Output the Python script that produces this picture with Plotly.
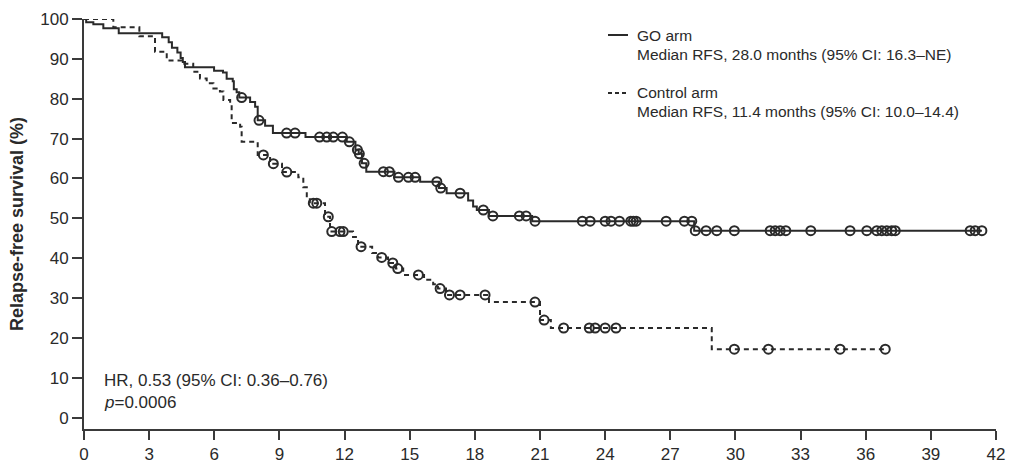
import numpy as np
import plotly.graph_objects as go

# ---- data (months, % relapse-free) ----
go_time = [0, 0.1, 0.43, 0.89, 1.6, 3.6, 3.9, 4.05, 4.3, 4.45, 4.55, 4.65, 5.99, 6.4, 6.57,
           6.85, 6.9, 7.03, 7.15, 7.65, 7.88, 8.0, 8.34, 8.7, 10.2, 12.1, 12.5, 12.65, 12.8,
           13.0, 14.3, 15.48, 16.35, 16.7, 17.69, 17.92, 18.09, 18.65, 20.64, 28.1, 41.35]
go_surv = [100, 99.2, 98.7, 97.7, 96.4, 95.4, 94.2, 92.8, 91.6, 90.2, 89.2, 87.9, 87.0, 86.6, 85.0,
           84.4, 82.4, 81.6, 80.3, 79.2, 78.0, 74.6, 73.2, 71.4, 70.4, 69.2, 67.2, 66.2, 63.8,
           61.7, 60.3, 59.2, 57.6, 56.3, 54.5, 53.0, 52.1, 50.6, 49.3, 46.9, 46.9]
go_censor = [7.26, 8.06, 9.33, 9.72, 10.85, 11.18, 11.48, 11.9, 12.22, 12.59, 12.68, 12.9,
             13.79, 14.06, 14.48, 14.94, 15.25, 16.25, 16.43, 17.32, 18.39, 18.83, 20.05, 20.36,
             20.77, 22.95, 23.31, 24.0, 24.27, 24.66, 25.18, 25.3, 25.43, 26.81, 27.65, 27.99,
             28.15, 28.65, 29.14, 29.95, 31.6, 31.83, 32.06, 32.32, 33.47, 35.28, 36.05, 36.51,
             36.74, 36.97, 37.2, 37.36, 40.81, 41.04, 41.35]

ctl_time = [0, 1.35, 2.55, 3.27, 3.81, 4.5, 5.03, 5.34, 5.65, 5.96, 6.26, 6.42, 6.73, 6.8, 7.19,
            7.26, 8.0, 8.57, 9.12, 9.87, 10.1, 10.26, 10.4, 11.1, 11.33, 12.39, 12.62, 13.27,
            13.54, 14.0, 14.37, 14.7, 15.66, 16.08, 16.3, 16.67, 18.65, 21.0, 21.5, 28.91, 36.9]
ctl_surv = [100, 97.9, 95.7, 91.8, 89.6, 88.8, 86.8, 85.1, 83.9, 82.6, 81.8, 79.7, 78.9, 73.9, 73.0,
            69.2, 65.9, 63.7, 61.6, 60.3, 57.8, 55.3, 53.8, 50.4, 46.7, 45.3, 42.9, 41.3,
            40.2, 38.8, 37.4, 35.8, 34.6, 33.5, 32.4, 30.8, 29.0, 24.5, 22.5, 17.2, 17.2]
ctl_censor = [8.26, 8.72, 9.34, 10.56, 10.72, 11.25, 11.41, 11.79, 11.94, 12.76, 13.71, 14.22,
              14.45, 15.4, 16.4, 16.83, 17.32, 18.47, 20.77, 21.19, 22.09, 23.27, 23.54, 24.0,
              24.5, 29.95, 31.52, 34.82, 36.9]

x_ticks = list(range(0, 43, 3))
y_ticks = list(range(0, 101, 10))


def on_curve(times, surv, pts):
    idx = np.searchsorted(np.array(times), np.array(pts), side="right") - 1
    return [surv[i] for i in idx]


INK = "#2a2a2a"
FONT = "Liberation Sans, Arial, sans-serif"

fig = go.Figure()
fig.add_trace(go.Scatter(x=go_time, y=go_surv, mode="lines", line_shape="hv",
                         line=dict(color=INK, width=2), cliponaxis=False, showlegend=False))
fig.add_trace(go.Scatter(x=ctl_time, y=ctl_surv, mode="lines", line_shape="hv",
                         line=dict(color=INK, width=2, dash="5px,4px"), cliponaxis=False,
                         showlegend=False))
fig.add_trace(go.Scatter(x=go_censor, y=on_curve(go_time, go_surv, go_censor), mode="markers",
                         marker=dict(symbol="circle-open", size=9, color=INK, line=dict(width=2)),
                         cliponaxis=False, showlegend=False))
fig.add_trace(go.Scatter(x=ctl_censor, y=on_curve(ctl_time, ctl_surv, ctl_censor), mode="markers",
                         marker=dict(symbol="circle-open", size=9, color=INK, line=dict(width=2)),
                         cliponaxis=False, showlegend=False))

W, H = 1013, 469
L, R, T, B = 84, 17, 19, 40
pw, ph = W - L - R, H - T - B


def px(xp):
    return (xp - L) / pw


def py(yp):
    return (H - B - yp) / ph


# legend (drawn manually)
fig.add_shape(type="line", xref="paper", yref="paper", x0=px(608), x1=px(628), y0=py(35), y1=py(35),
              line=dict(color=INK, width=2))
fig.add_shape(type="line", xref="paper", yref="paper", x0=px(608), x1=px(628), y0=py(93), y1=py(93),
              line=dict(color=INK, width=2, dash="4px,3px"))
legend_lines = [("GO arm", 35), ("Median RFS, 28.0 months (95% CI: 16.3–NE)", 55),
                ("Control arm", 92), ("Median RFS, 11.4 months (95% CI: 10.0–14.4)", 112)]
for txt, yy in legend_lines:
    fig.add_annotation(text=txt, xref="paper", yref="paper", x=px(635), y=py(yy),
                       xanchor="left", yanchor="middle", showarrow=False,
                       font=dict(family=FONT, size=15.5, color=INK))

fig.add_annotation(text="HR, 0.53 (95% CI: 0.36–0.76)", xref="paper", yref="paper",
                   x=px(102), y=py(380), xanchor="left", yanchor="middle", showarrow=False,
                   font=dict(family=FONT, size=17, color=INK))
fig.add_annotation(text="<i>p</i>=0.0006", xref="paper", yref="paper",
                   x=px(102), y=py(402), xanchor="left", yanchor="middle", showarrow=False,
                   font=dict(family=FONT, size=17, color=INK))

fig.update_layout(
    width=W, height=H, margin=dict(l=L, r=R, t=T, b=B, autoexpand=False),
    plot_bgcolor="white", paper_bgcolor="white",
    font=dict(family=FONT, color=INK),
    xaxis=dict(range=[0, 42], tickvals=x_ticks, ticktext=[str(v) for v in x_ticks],
               automargin=False,
               showgrid=False, zeroline=False, showline=True, linecolor="#3a3a3a", linewidth=2,
               ticks="outside", ticklen=9, tickwidth=2, tickcolor="#3a3a3a",
               tickfont=dict(size=17, family=FONT, color=INK)),
    yaxis=dict(range=[-2.83, 100], tickvals=y_ticks, ticktext=[str(v) for v in y_ticks],
               automargin=False,
               showgrid=False, zeroline=False, showline=True, linecolor="#3a3a3a", linewidth=2,
               ticks="outside", ticklen=10, tickwidth=2, tickcolor="#3a3a3a",
               tickfont=dict(size=17, family=FONT, color=INK),
               title=dict(text="<b>Relapse-free survival (%)</b>", standoff=12,
                          font=dict(size=18, family=FONT, color=INK))),
)

fig.write_html("out.html")
